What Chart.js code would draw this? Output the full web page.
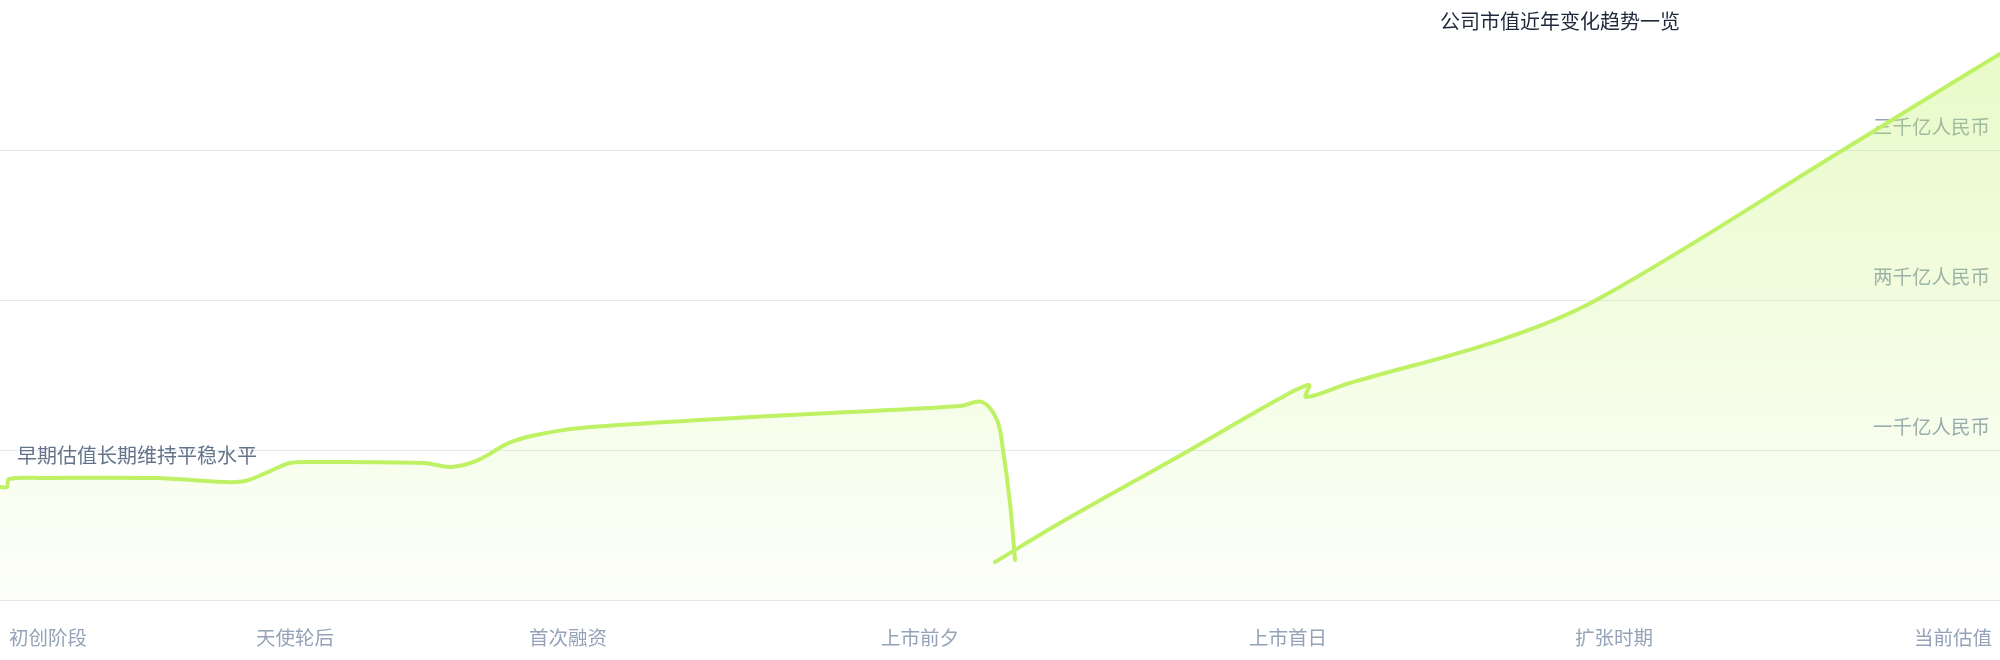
<!DOCTYPE html>
<html lang="zh">
<head>
<meta charset="utf-8">
<title>公司市值近年变化趋势一览</title>
<script src="https://cdn.jsdelivr.net/npm/chart.js@4.4.1/dist/chart.umd.min.js"></script>
<style>
  html, body { margin: 0; padding: 0; background: #ffffff; }
  #contenedor { width: 2000px; height: 660px; position: relative; }
</style>
</head>
<body>
<div id="contenedor"><canvas id="grafica"></canvas></div>
<script>
// 1) Datos (x en meses, y en 亿元; null = hueco en la línea)
const meses = [
  0, 0.35, 0.45, 2.25, 7.8, 11.15, 12.25, 13.4, 14.5, 15.6, 21.2, 22.55, 23.9,
  25.45, 26.8, 29, 35, 41.5, 48, 49.1, 49.85, 50.15, 50.5, 50.75,
  50.2,
  49.75, 53, 59.5, 63.85, 65.45, 65.3, 67.5, 75, 80, 92.15, 97.85, 100
];
const valores = [
  753, 753, 807, 813, 813, 787, 793, 853, 913, 920, 913, 887, 933,
  1047, 1100, 1147, 1200, 1247, 1293, 1320, 1200, 1000, 647, 267,
  null,
  253, 513, 1000, 1333, 1433, 1353, 1447, 1733, 2013, 3000, 3467, 3640
];

// 2) Etiquetas de los ejes y textos
const posicionesX = [2.4, 14.75, 28.4, 46, 64.4, 80.7, 97.65];
const etiquetasX = ['初创阶段', '天使轮后', '首次融资', '上市前夕', '上市首日', '扩张时期', '当前估值'];
const etiquetasY = ['', '一千亿人民币', '两千亿人民币', '三千亿人民币', ''];
const titulo = '公司市值近年变化趋势一览';
const nota = '早期估值长期维持平稳水平';

const fuente = '"Noto Sans CJK SC", "Noto Sans", sans-serif';
const puntos = meses.map((m, i) => ({ x: m, y: valores[i] }));

// 3) Plugin para el título y la nota (texto dibujado sobre el canvas)
const textosPlugin = {
  id: 'textos',
  afterDatasetsDraw(chart) {
    const { ctx, chartArea, scales } = chart;
    ctx.save();
    ctx.textBaseline = 'middle';

    ctx.font = `20px ${fuente}`;
    ctx.fillStyle = '#1e293b';
    ctx.textAlign = 'center';
    ctx.fillText(titulo, chart.width * 0.78, 21);

    ctx.fillStyle = '#64748b';
    ctx.textAlign = 'left';
    ctx.fillText(nota, chartArea.left + 17, scales.y.getPixelForValue(1000) + 5);
    ctx.restore();
  }
};

// 4) Quitar el relleno automático que Chart.js deja para las etiquetas
const sinRelleno = (axis) => {
  axis.paddingTop = 0;
  axis.paddingBottom = 0;
  axis.paddingLeft = 0;
  axis.paddingRight = 0;
};

// Degradado verde del área
const degradado = (c) => {
  const area = c.chart.chartArea;
  if (!area) return 'rgba(190, 242, 100, 0.2)';
  const g = c.chart.ctx.createLinearGradient(0, area.top, 0, area.bottom);
  g.addColorStop(0, 'rgba(190, 242, 100, 0.38)');
  g.addColorStop(1, 'rgba(190, 242, 100, 0.03)');
  return g;
};

const ctx = document.getElementById('grafica').getContext('2d');
new Chart(ctx, {
  type: 'line',
  data: {
    datasets: [
      {
        // la línea, cortada en el hueco
        label: titulo,
        data: puntos,
        borderColor: '#bef264',
        borderWidth: 4,
        borderCapStyle: 'round',
        borderJoinStyle: 'round',
        pointRadius: 0,
        tension: 0.35,
        spanGaps: false,
        fill: false
      },
      {
        // el área, continua por debajo de la línea
        label: titulo + ' 面积',
        data: puntos,
        borderWidth: 0,
        borderColor: 'rgba(0, 0, 0, 0)',
        pointRadius: 0,
        tension: 0.35,
        spanGaps: true,
        fill: 'origin',
        backgroundColor: degradado
      }
    ]
  },
  options: {
    responsive: true,
    maintainAspectRatio: false,
    animation: false,
    layout: { padding: 0 },
    plugins: {
      legend: { display: false },
      tooltip: { enabled: false },
      title: { display: false }
    },
    scales: {
      x: {
        type: 'linear',
        min: 0,
        max: 100,
        grid: { display: false },
        border: { display: false },
        afterBuildTicks: (axis) => { axis.ticks = posicionesX.map(v => ({ value: v })); },
        afterFit: (axis) => { axis.height = 60; sinRelleno(axis); },
        ticks: {
          autoSkip: false,
          maxRotation: 0,
          padding: 18,
          color: '#94a3b8',
          font: { family: fuente, size: 19.5 },
          callback: (v, i) => etiquetasX[i]
        }
      },
      y: {
        position: 'right',
        min: 0,
        max: 4000,
        border: { display: false },
        grid: {
          // sin línea en el borde superior
          color: (c) => c.tick && c.tick.value === 4000 ? 'rgba(0, 0, 0, 0)' : '#e2e8f0',
          lineWidth: 1,
          drawTicks: false
        },
        afterFit: (axis) => { axis.width = 0; sinRelleno(axis); },
        ticks: {
          stepSize: 1000,
          mirror: true,
          padding: -10,
          labelOffset: -23,
          color: '#94a3b8',
          font: { family: fuente, size: 19.5 },
          callback: (v, i) => etiquetasY[i]
        }
      }
    }
  },
  plugins: [textosPlugin]
});
</script>
</body>
</html>
